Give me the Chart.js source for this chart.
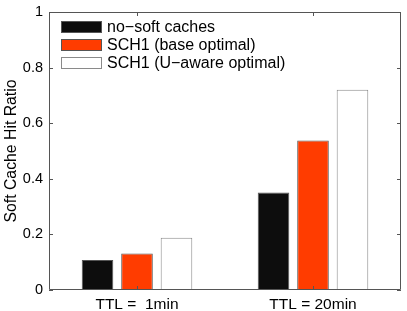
<!DOCTYPE html>
<html>
<head>
<meta charset="utf-8">
<script src="https://cdn.jsdelivr.net/npm/chart.js@4"></script>
<style>
  html, body { margin: 0; padding: 0; background: #fff; }
  #wrap { width: 407px; height: 311px; }
</style>
</head>
<body>
<div id="wrap"><canvas id="c" width="407" height="311"></canvas></div>
<script>
const categories = ["TTL =  1min", "TTL = 20min"];
const seriesNames = ["no\u2212soft caches", "SCH1 (base optimal)", "SCH1 (U\u2212aware optimal)"];
const noSoft = [0.108, 0.351];
const sch1Base = [0.131, 0.538];
const sch1UAware = [0.188, 0.720];
const yTicks = [0, 0.2, 0.4, 0.6, 0.8, 1];
const yTickLabels = ["0", "0.2", "0.4", "0.6", "0.8", "1"];

const fills = ["#0d0d0d", "#ff3c00", "#ffffff"];
const edges = ["#555555", "#555555", "#8a8a8a"];
const FONT = "'Liberation Sans', Arial, Helvetica, sans-serif";

const frame = {
  id: 'frame',
  afterDraw(chart) {
    const {ctx, chartArea: a, scales} = chart;
    ctx.save();
    ctx.strokeStyle = '#555';
    ctx.lineWidth = 1;
    ctx.beginPath();
    ctx.rect(Math.round(a.left) + 0.5, Math.round(a.top) + 0.5,
             Math.round(a.right - a.left) - 1, Math.round(a.bottom - a.top) - 1);
    ctx.stroke();
    const L = 4;
    ctx.beginPath();
    yTicks.forEach(v => {
      const y = Math.round(scales.y.getPixelForValue(v)) + 0.5;
      ctx.moveTo(a.left, y); ctx.lineTo(a.left + L, y);
      ctx.moveTo(a.right, y); ctx.lineTo(a.right - L, y);
    });
    categories.forEach((c, i) => {
      const x = Math.round(scales.x.getPixelForValue(i)) + 0.5;
      ctx.moveTo(x, a.bottom); ctx.lineTo(x, a.bottom - L);
      ctx.moveTo(x, a.top); ctx.lineTo(x, a.top + L);
    });
    ctx.stroke();

    // legend inside plot
    ctx.font = "16px " + FONT;
    ctx.textBaseline = 'middle';
    ctx.textAlign = 'left';
    chart.data.datasets.forEach((ds, i) => {
      const cy = 27 + i * 18;
      const x0 = 61, w = 41, h = 12;
      ctx.fillStyle = ds.backgroundColor;
      ctx.fillRect(x0, cy - h / 2, w, h);
      ctx.strokeStyle = ds.borderColor;
      ctx.strokeRect(x0 + 0.5, cy - h / 2 + 0.5, w - 1, h - 1);
      ctx.fillStyle = '#000';
      ctx.fillText(ds.label, 107, cy + 1);
    });
    ctx.restore();
  }
};

new Chart(document.getElementById('c'), {
  type: 'bar',
  data: {
    labels: categories,
    datasets: [noSoft, sch1Base, sch1UAware].map((d, i) => ({
      label: seriesNames[i],
      data: d,
      backgroundColor: fills[i],
      borderColor: edges[i],
      borderWidth: 1,
      categoryPercentage: 0.673,
      barPercentage: 0.8
    }))
  },
  options: {
    responsive: false,
    animation: false,
    devicePixelRatio: 1,
    layout: { padding: { top: 12, right: 6, left: 0, bottom: 0 } },
    plugins: { legend: { display: false }, tooltip: { enabled: false }, title: { display: false } },
    scales: {
      x: {
        grid: { display: false, drawTicks: false, tickLength: 0 },
        border: { display: false },
        ticks: { color: '#000', font: { family: FONT, size: 15.5 }, padding: 5, maxRotation: 0 },
        afterFit(s) { s.height = 21; s.paddingLeft = 0; s.paddingRight = 0; }
      },
      y: {
        min: 0, max: 1,
        grid: { display: false, drawTicks: false, tickLength: 0 },
        border: { display: false },
        afterBuildTicks(s) { s.ticks = yTicks.map(v => ({ value: v })); },
        ticks: {
          color: '#000', font: { family: FONT, size: 14.5 }, padding: 6,
          callback: (v) => yTickLabels[yTicks.indexOf(v)]
        },
        title: { display: true, text: 'Soft Cache Hit Ratio', color: '#000',
                 font: { family: FONT, size: 15.8 }, padding: { top: 2, bottom: 0 } },
        afterFit(s) { s.width = 49; s.paddingTop = 0; s.paddingBottom = 0; }
      }
    }
  },
  plugins: [frame]
});
</script>
</body>
</html>
